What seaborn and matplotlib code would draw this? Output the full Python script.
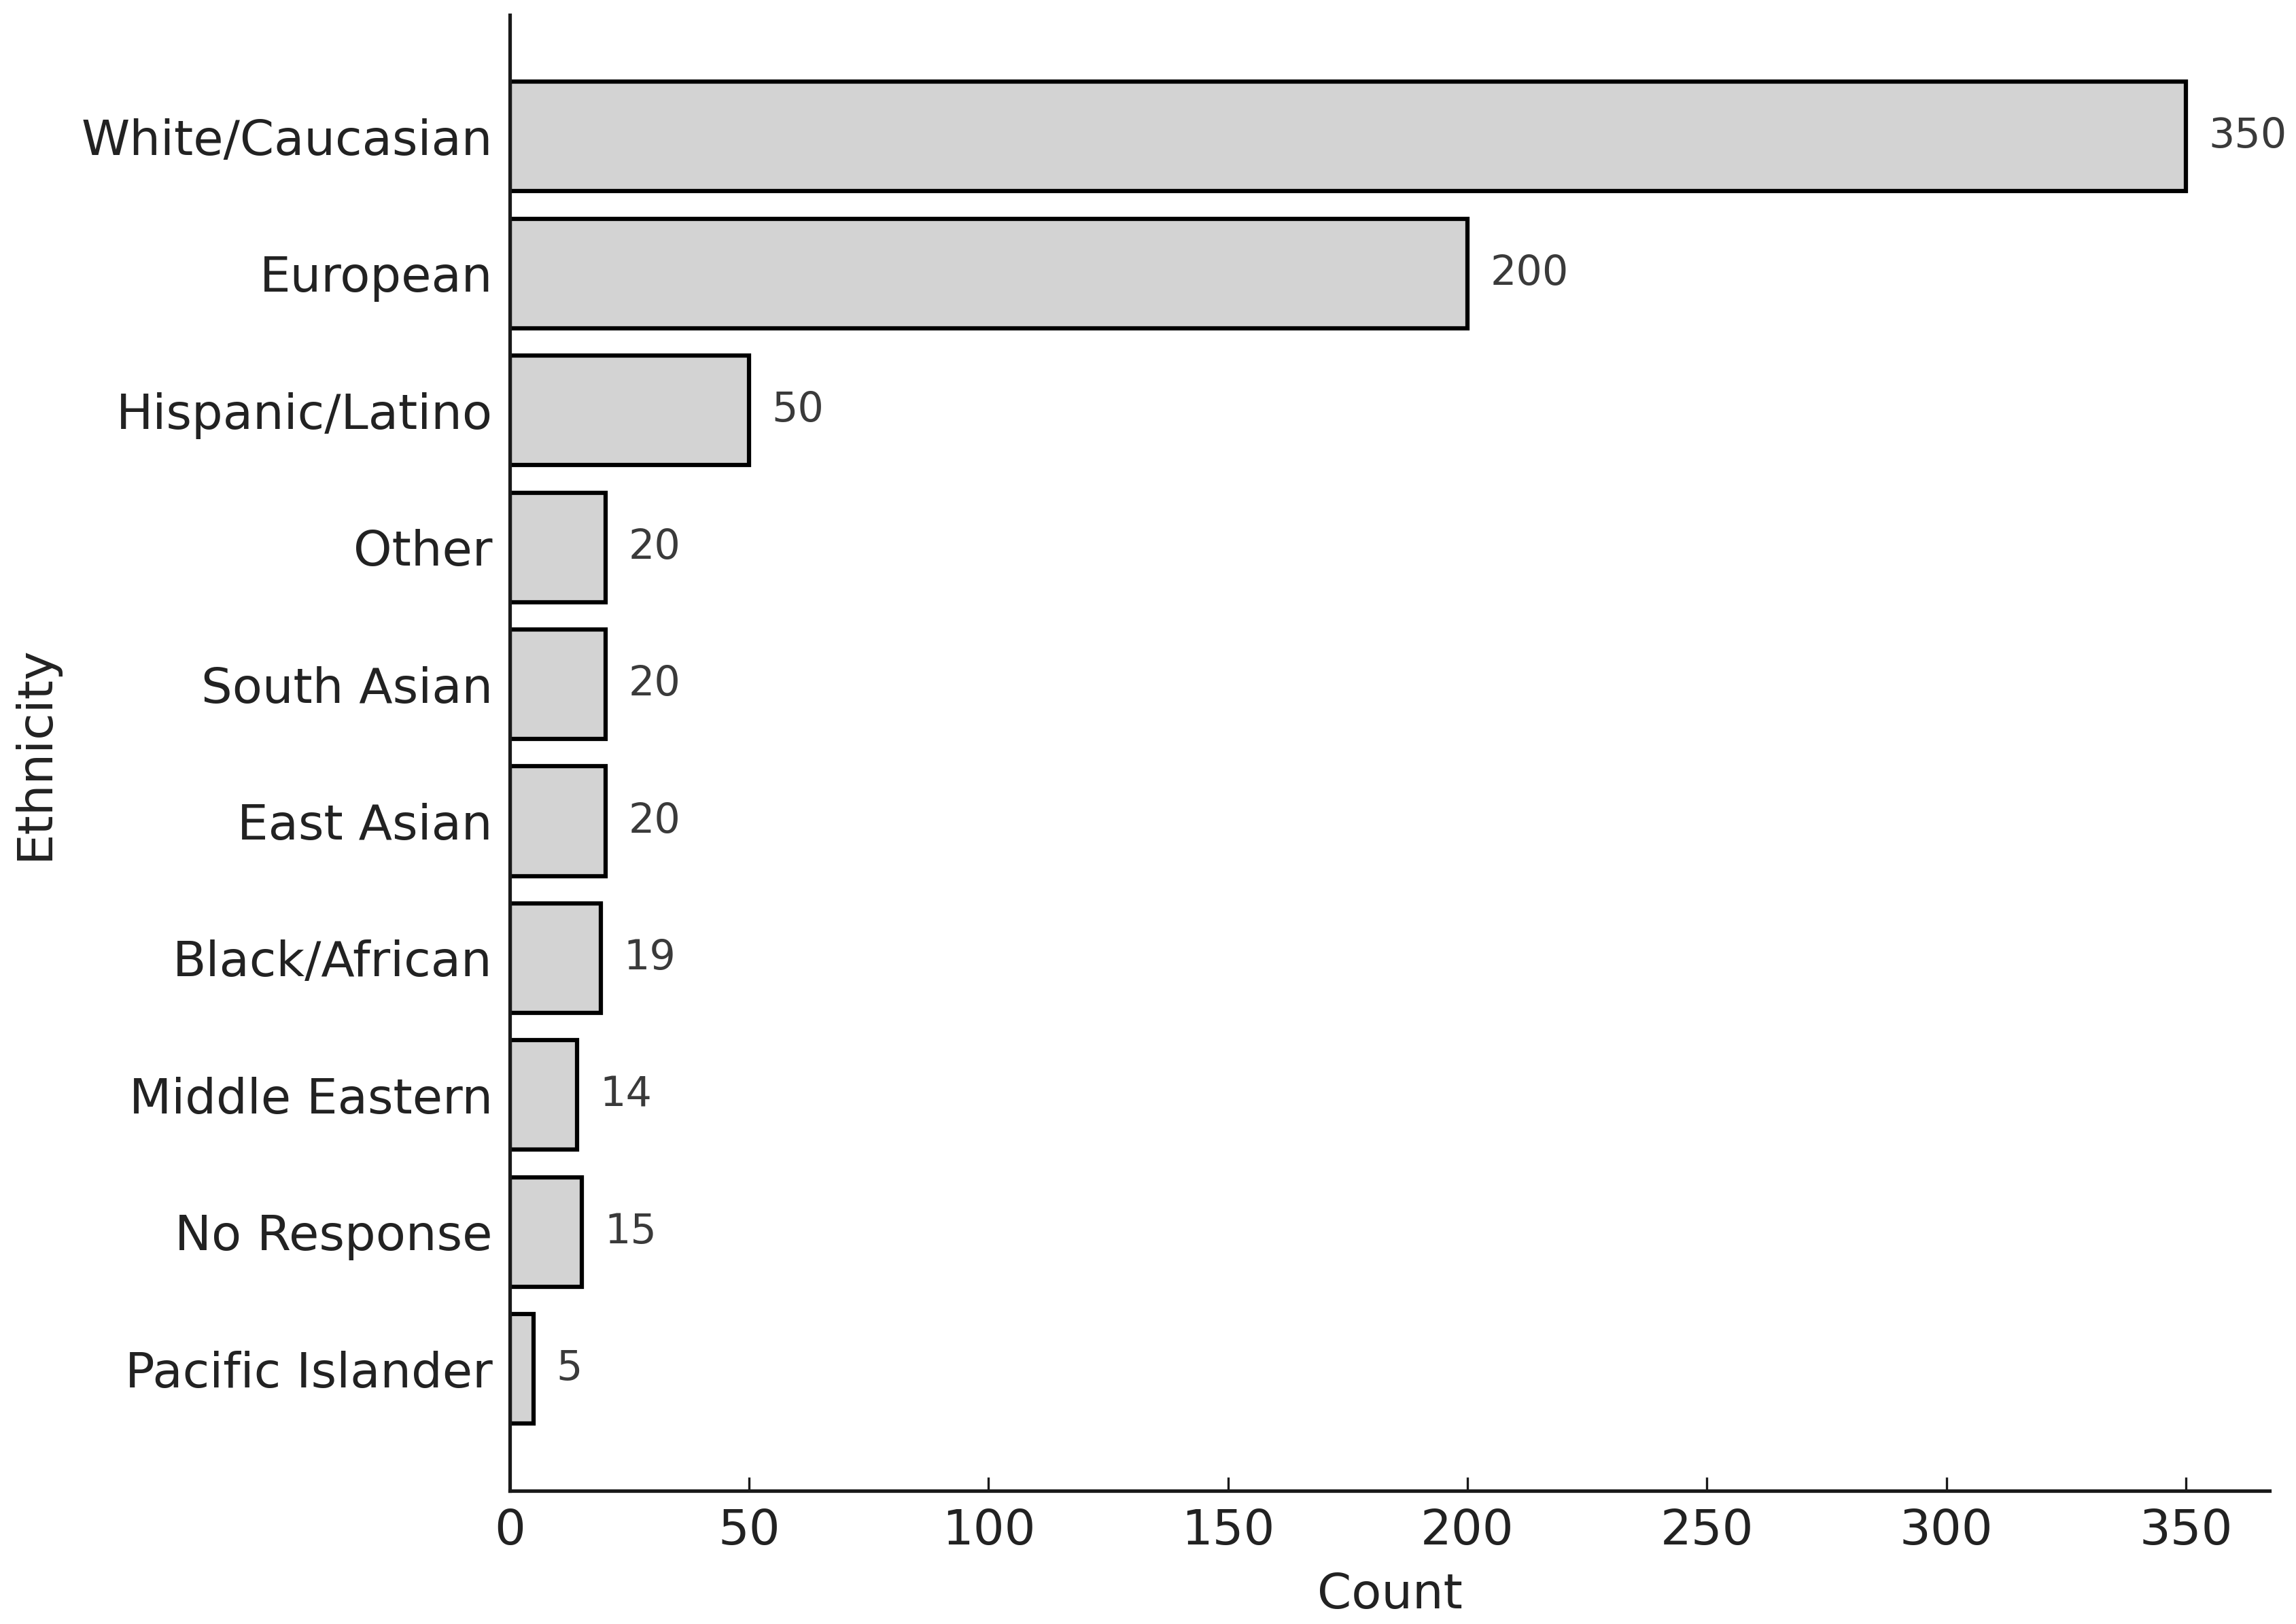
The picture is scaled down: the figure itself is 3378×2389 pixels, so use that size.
import matplotlib
matplotlib.use("Agg")
import matplotlib.pyplot as plt
import seaborn as sns
import pandas as pd

categories = ["White/Caucasian", "European", "Hispanic/Latino", "Other", "South Asian",
              "East Asian", "Black/African", "Middle Eastern", "No Response", "Pacific Islander"]
counts = [350, 200, 50, 20, 20, 20, 19, 14, 15, 5]

sns.set_style("ticks")
plt.rcParams['font.family'] = ['DejaVu Sans']

df = pd.DataFrame({"Ethnicity": categories, "Count": counts})

fig, ax = plt.subplots(figsize=(3378/300, 2389/300), dpi=300)
fig.subplots_adjust(left=0.222, right=0.9885, top=0.991, bottom=0.082)

sns.barplot(data=df, y="Ethnicity", x="Count", order=categories, orient="h",
            color="#d3d3d3", saturation=1, edgecolor="black", linewidth=1.5,
            width=0.8, ax=ax)

for c in ax.containers:
    ax.bar_label(c, padding=8, fontsize=14.5, color="#3a3a3a")

n = len(categories)
ax.set_ylim(n - 1 + 0.89, -0.89)
ax.set_xlim(0, 367.5)
ax.set_xticks([0, 50, 100, 150, 200, 250, 300, 350])

sns.despine(ax=ax)
for s in ["left", "bottom"]:
    ax.spines[s].set_linewidth(1.25)
    ax.spines[s].set_color("#1a1a1a")

ax.tick_params(axis="both", direction="in", length=4.8, width=0.8, labelsize=17.3,
               pad=6, colors="#1a1a1a", labelcolor="#222222")
ax.set_xlabel("Count", fontsize=17.3, color="#222222", labelpad=6)
ax.set_ylabel("Ethnicity", fontsize=17.3, color="#222222", labelpad=8)

fig.savefig("out.png", dpi=300)
